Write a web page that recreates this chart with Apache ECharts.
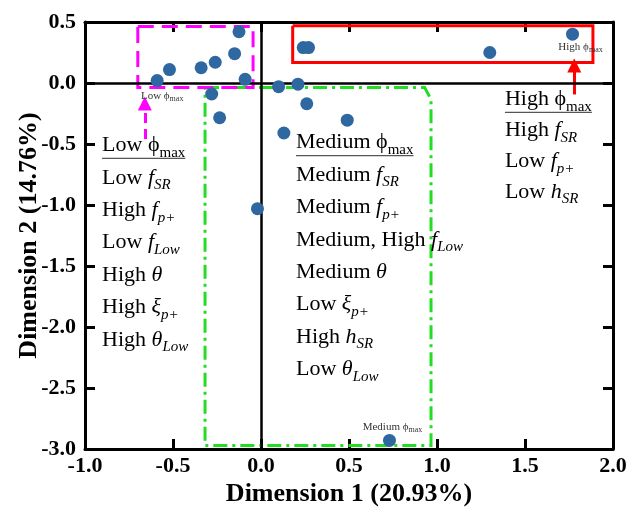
<!DOCTYPE html>
<html><head><meta charset="utf-8">
<script src="https://cdn.jsdelivr.net/npm/echarts@6/dist/echarts.min.js"></script>
<style>html,body{margin:0;padding:0;background:#fff}#c{width:632px;height:513px}</style>
</head><body><div id="c"></div>
<script>
// ---- data ----
const dim1 = [-0.125,-0.15,-0.26,-0.34,-0.52,-0.59,-0.09,-0.28,-0.235,0.10,0.21,0.26,0.49,0.24,0.27,1.30,1.77,0.13,-0.02,0.73];
const dim2 = [0.42,0.24,0.17,0.125,0.11,0.02,0.03,-0.09,-0.285,-0.03,-0.01,-0.17,-0.305,0.29,0.29,0.25,0.40,-0.41,-1.03,-2.93];
const xTicks = [-1.0,-0.5,0.0,0.5,1.0,1.5,2.0];
const yTicks = [-3.0,-2.5,-2.0,-1.5,-1.0,-0.5,0.0,0.5];
const xTitle = 'Dimension 1 (20.93%)';
const yTitle = 'Dimension 2 (14.76%)';
const tagIndex = [5,16,19];
const tagText = ['Low','High','Medium'];
const PHI = 'ϕ';
// trait lines: [style, text] tokens
const leftTraits = [
  [['n','Low '+PHI],['sm','max']],
  [['n','Low '],['i','f'],['si','SR']],
  [['n','High '],['i','f'],['si','p+']],
  [['n','Low '],['i','f'],['si','Low']],
  [['n','High '],['i','θ']],
  [['n','High '],['i','ξ'],['si','p+']],
  [['n','High '],['i','θ'],['si','Low']]
];
const midTraits = [
  [['n','Medium '+PHI],['sm','max']],
  [['n','Medium '],['i','f'],['si','SR']],
  [['n','Medium '],['i','f'],['si','p+']],
  [['n','Medium, High '],['i','f'],['si','Low']],
  [['n','Medium '],['i','θ']],
  [['n','Low '],['i','ξ'],['si','p+']],
  [['n','High '],['i','h'],['si','SR']],
  [['n','Low '],['i','θ'],['si','Low']]
];
const rightTraits = [
  [['n','High '+PHI],['sm','max']],
  [['n','High '],['i','f'],['si','SR']],
  [['n','Low '],['i','f'],['si','p+']],
  [['n','Low '],['i','h'],['si','SR']]
];

// ---- styling ----
const FF = 'Liberation Serif';
const MAIN = 22, SUB = 15, LH = 30;
const richBig = {
  n:{fontSize:MAIN,fontFamily:FF,color:'#111',lineHeight:LH,verticalAlign:'middle'},
  i:{fontSize:MAIN,fontFamily:FF,fontStyle:'italic',color:'#111',lineHeight:LH,verticalAlign:'middle'},
  sm:{fontSize:SUB,fontFamily:FF,color:'#111',verticalAlign:'bottom'},
  si:{fontSize:SUB,fontFamily:FF,fontStyle:'italic',color:'#111',verticalAlign:'bottom'}
};
const richSmall = {
  n:{fontSize:11,fontFamily:FF,color:'#333',lineHeight:14,verticalAlign:'middle'},
  sm:{fontSize:8,fontFamily:FF,color:'#333',verticalAlign:'bottom'}
};
const fontOf = {
  n:`normal normal ${MAIN}px "${FF}"`, i:`italic normal ${MAIN}px "${FF}"`,
  sm:`normal normal ${SUB}px "${FF}"`, si:`italic normal ${SUB}px "${FF}"`
};
const mctx = document.createElement('canvas').getContext('2d');
function lineWidth(tokens){ let w=0; tokens.forEach(([s,t])=>{ mctx.font=fontOf[s]; w+=mctx.measureText(t).width; }); return w; }
function toRich(tokens){ return tokens.map(([s,t])=>`{${s}|${t}}`).join(''); }

const tagPos = ['bottom','bottom','top'];
const tagOff = [[5,-3],[8,-6],[3,5]];

const pts = dim1.map((x,i)=>{
  const item = {value:[x, dim2[i]]};
  const t = tagIndex.indexOf(i);
  if (t >= 0) {
    item.label = {show:true, position:tagPos[t], offset:tagOff[t], formatter:`{n|${tagText[t]} ${PHI}}{sm|max}`, rich:richSmall};
  }
  return item;
});

const axisLineStyle = {color:'#000', width:3};
const tickStyle = {inside:true, length:10, lineStyle:{color:'#000', width:3}};
const lblStyle = {fontSize:22, fontWeight:'bold', fontFamily:FF, color:'#000', formatter:v=>v.toFixed(1)};
const nameStyle = {fontSize:26, fontWeight:'bold', fontFamily:FF, color:'#000'};
const xMin = xTicks[0], xMax = xTicks[xTicks.length-1], xInt = xTicks[1]-xTicks[0];
const yMin = yTicks[0], yMax = yTicks[yTicks.length-1], yInt = yTicks[1]-yTicks[0];
const shapeLine = (color, type)=>({color, width:3, type, cap:'butt', join:'miter'});

const option = {
  animation:false,
  backgroundColor:'#fff',
  grid:{left:85, right:19, top:22, bottom:64, outerBoundsMode:'none'},
  xAxis:[
    {type:'value', min:xMin, max:xMax, interval:xInt, position:'bottom',
     axisLine:{onZero:false, lineStyle:axisLineStyle}, axisTick:tickStyle,
     axisLabel:Object.assign({margin:6}, lblStyle), splitLine:{show:false},
     name:xTitle, nameLocation:'middle', nameGap:32, nameMoveOverlap:false, nameTextStyle:nameStyle},
    {type:'value', min:xMin, max:xMax, interval:xInt, position:'top',
     axisLine:{onZero:false, lineStyle:axisLineStyle}, axisTick:tickStyle,
     axisLabel:{show:false}, splitLine:{show:false}}
  ],
  yAxis:[
    {type:'value', min:yMin, max:yMax, interval:yInt, position:'left',
     axisLine:{onZero:false, lineStyle:axisLineStyle}, axisTick:tickStyle,
     axisLabel:Object.assign({margin:9}, lblStyle), splitLine:{show:false},
     name:yTitle, nameLocation:'middle', nameGap:43, nameMoveOverlap:false, nameTextStyle:nameStyle},
    {type:'value', min:yMin, max:yMax, interval:yInt, position:'right',
     axisLine:{onZero:false, lineStyle:axisLineStyle}, axisTick:tickStyle,
     axisLabel:{show:false}, splitLine:{show:false}}
  ],
  series:[
    {type:'line', name:'green', silent:true, symbol:'none', z:1,
     lineStyle:shapeLine('#22dd22',[14,5,3,5]),
     data:[[-0.318,-0.037],[0.93,-0.037],[0.966,-0.135],[0.966,-2.972],[-0.318,-2.972],[-0.318,-0.037]]},
    {type:'line', name:'magenta', silent:true, symbol:'none', z:1,
     lineStyle:shapeLine('#ff00ff',[16,8]),
     data:[[-0.70,0.463],[-0.045,0.463],[-0.045,-0.037],[-0.70,-0.037],[-0.70,0.463]],
     markLine:{silent:true, symbol:['none','triangle'], symbolSize:14, label:{show:false},
       lineStyle:{color:'#ff00ff', width:3, type:[10,6]},
       data:[[{coord:[-0.66,-0.46]},{coord:[-0.66,-0.168]}]]}},
    {type:'line', name:'red', silent:true, symbol:'none', z:1,
     lineStyle:shapeLine('#ff0000','solid'),
     data:[[0.18,0.47],[1.886,0.47],[1.886,0.168],[0.18,0.168],[0.18,0.47]],
     markLine:{silent:true, symbol:['none','triangle'], symbolSize:14, label:{show:false},
       lineStyle:{color:'#ff0000', width:3, type:'solid'},
       data:[[{coord:[1.78,-0.094]},{coord:[1.78,0.143]}]]}},
    {type:'scatter', name:'points', z:5, symbolSize:13,
     itemStyle:{color:'#2f67a0', opacity:1},
     data:pts,
     markLine:{silent:true, symbol:'none', label:{show:false},
       lineStyle:{color:'#000', width:2.5, type:'solid'},
       data:[{xAxis:0},{yAxis:0}]}}
  ]
};

const chart = echarts.init(document.getElementById('c'), null, {renderer:'canvas'});
chart.setOption(option);

const blocks = [
  {lines:leftTraits, anchor:[-0.903,-0.512], step:32.4},
  {lines:midTraits, anchor:[0.199,-0.488], step:32.4},
  {lines:rightTraits, anchor:[1.386,-0.135], step:30.8}
];
const graphics = [];
blocks.forEach(b=>{
  const p = chart.convertToPixel({gridIndex:0}, b.anchor);
  b.lines.forEach((ln,k)=>{
    const y = p[1] + k*b.step;
    graphics.push({type:'text', x:p[0], y:y, z:10, silent:true,
      style:{text:toRich(ln), rich:richBig, align:'left', verticalAlign:'middle', fontFamily:FF, fontSize:MAIN}});
    if (k===0) {
      const w = lineWidth(ln);
      graphics.push({type:'line', z:10, silent:true,
        shape:{x1:p[0], y1:y+13, x2:p[0]+w, y2:y+13},
        style:{stroke:'#555', lineWidth:1.2}});
    }
  });
});
chart.setOption({graphic:graphics});
</script>
</body></html>
